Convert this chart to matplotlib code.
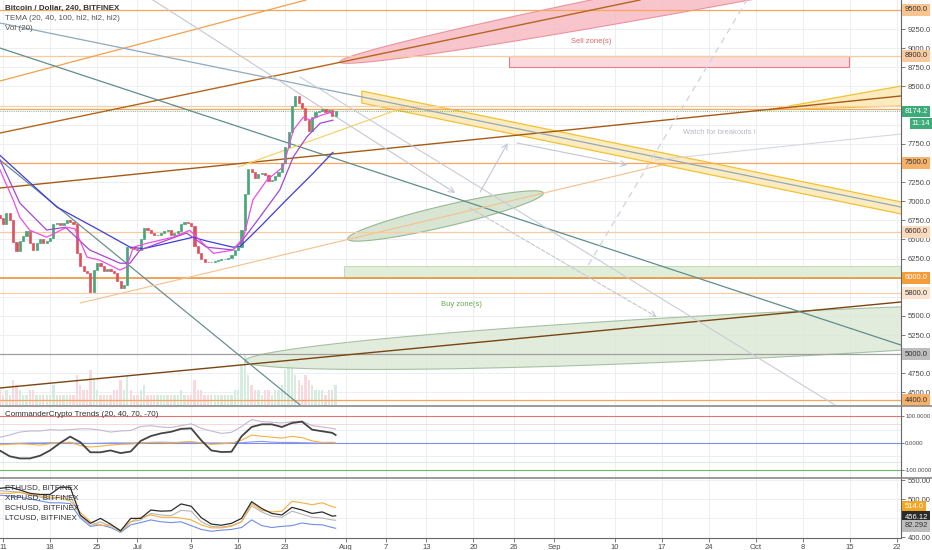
import matplotlib.pyplot as plt
import numpy as np
from matplotlib.patches import Polygon, Rectangle
from matplotlib.ticker import FormatStrFormatter
from matplotlib.lines import Line2D

plt.rcParams["font.family"] = ["Liberation Sans", "DejaVu Sans"]

W, H = 932, 550

# ---------------- data ----------------
# 12h candles, day 0 = 11 Jun 2018
candle_first_day = -0.5
candle_step = 0.5
first_open = 6820
closes = [6780, 6700, 6840, 6760, 6470, 6350, 6480, 6550, 6610, 6450,
          6360, 6450, 6500, 6460, 6480, 6520, 6700, 6720, 6690, 6710,
          6750, 6730, 6700, 6320, 6150, 6090, 6060, 5820, 6100, 6190,
          6150, 6090, 6110, 6090, 6060, 5960, 5860, 5900, 6400, 6390,
          6370, 6360, 6500, 6650, 6620, 6590, 6560, 6560, 6590, 6610,
          6620, 6560, 6580, 6610, 6700, 6730, 6720, 6680, 6420, 6330,
          6250, 6210, 6200, 6210, 6220, 6230, 6240, 6250, 6260, 6300,
          6360, 6400, 6620, 7100, 7420, 7380, 7300, 7360, 7370, 7340,
          7260, 7280, 7330, 7380, 7500, 7710, 7900, 8250, 8380, 8280,
          8220, 8060, 7920, 8100, 8170, 8180, 8200, 8170, 8190, 8120,
          8174.2]
volumes = [3, 2, 3, 2, 5, 4, 3, 2, 2, 3,
           3, 2, 2, 2, 2, 2, 4, 2, 2, 2,
           2, 2, 2, 6, 4, 3, 3, 7, 5, 3,
           2, 2, 2, 2, 3, 3, 5, 3, 6, 3,
           2, 2, 3, 4, 2, 2, 2, 2, 2, 2,
           2, 2, 2, 2, 3, 2, 2, 2, 5, 3,
           3, 2, 2, 2, 2, 2, 2, 2, 2, 2,
           3, 3, 8, 10, 6, 4, 3, 3, 2, 3,
           3, 2, 3, 3, 4, 7, 9, 8, 6, 5,
           4, 6, 5, 4, 3, 3, 3, 2, 3, 3,
           4]

tema_fast_days = [-0.45, 1.5, 2.5, 4.0, 6.5, 9.5, 10.7, 12.5, 14.4, 17.4, 18.4, 19.4, 21.4, 25.3,
                  27.8, 29.3, 31.3, 34.2, 35.8, 37.2, 39.3, 41.7, 43.2, 44.7, 45.7, 47.2, 49.1]
tema_fast = [7410, 7020, 6790, 6620, 6530, 6660, 6640, 6270, 6230, 6100, 6140, 6400, 6450, 6530,
             6620, 6490, 6320, 6360, 6530, 7020, 7280, 7450, 7930, 8100, 8060, 8120, 8170]
tema_mid_days = [-0.45, 2.5, 6.5, 9.3, 12.9, 17.4, 18.9, 20.4, 27.3, 30.3, 34.2, 35.3, 38.2,
                 41.2, 43.2, 45.2, 47.2, 49.1]
tema_mid = [7540, 6977, 6624, 6660, 6363, 6190, 6190, 6363, 6585, 6400, 6363, 6450, 6790,
            7150, 7580, 7840, 8020, 8060]
tema_slow_days = [-0.45, 8.0, 14.4, 18.9, 20.9, 24.4, 28.3, 30.3, 34.2, 35.3, 38.2, 42.2, 46.2, 49.1]
tema_slow = [7600, 6925, 6620, 6400, 6380, 6450, 6530, 6480, 6400, 6410, 6660, 7020, 7370, 7640]

# horizontal levels
level_prices = [9500, 8900, 8240, 8200, 7500, 6600, 6000, 5800, 5000, 4400]
level_colors = ["#f6a55a", "#f9c9a0", "#f9cfa9", "#f6a55a", "#f6a55a",
                "#f9c9a0", "#f08c2c", "#f9cfa9", "#9e9e9e", "#f6a55a"]
last_price = 8174.2

# trend lines through two (day, price) points, drawn across the chart
orange_top = [(-0.45, 8572), (45.1, 9631)]
brown_top = [(-0.45, 7892), (94.8, 9631)]
brown_mid = [(-0.45, 7173), (133.6, 8376)]
brown_low = [(-0.45, 4559), (133.6, 5683)]
slate_line = [(-0.45, 9330), (133.6, 6925)]
teal_line = [(-0.45, 9003), (133.6, 5121)]
teal_steep = [(-0.45, 7539), (44.2, 4337)]

# segments (day, price)
light_orange_seg = [(11.5, 5670), (99.3, 7500)]
yellow_seg = [(35.0, 7448), (59.8, 8232)]
grey_long_seg = [(44.2, 8624), (123.8, 4337)]
faint_right_seg = [(97.0, 7539), (148.4, 8016)]
arrow_down = [(22.3, 9631), (67.3, 7108)]
arrow_up = [(71.0, 7121), (75.1, 7761)]
arrow_right = [(76.5, 7761), (92.9, 7474)]
dashed_arrow = [(69.5, 6912), (97.3, 5487)]
dashed_up = [(87.1, 6167), (110.7, 9631)]

# channels
yellow_channel = [(53.4, 8441), (148.4, 6724), (148.4, 6567), (53.4, 8284)]
yellow_wedge = [(113.7, 8193), (148.4, 8738), (148.4, 8284)]

# ellipses: major axis tips (day, price)
red_ellipse = [(50.1, 8820), (196.3, 11265)]
green_ellipse_small = [(51.3, 6507), (80.4, 7108)]
green_ellipse_big = [(36.0, 4912), (189.3, 5579)]

# zones: (day0, day1, price0, price1)
sell_zone = (75.3, 125.9, 8755, 8900)
buy_zone = (50.7, 140.0, 6000, 6160)

# indicator panels
ind_days = [-0.5, 1, 2.5, 4, 5.5, 7, 8.5, 10, 11.5, 13, 14.5, 16, 17.5, 19, 20.5, 22, 23.5,
            25, 26.5, 28, 29.5, 31, 32.5, 34, 35.5, 37, 38.5, 40, 41.5, 43, 44.5, 46, 47.5,
            49, 49.5]
trend_main = [-28, -50, -58, -58, -48, -28, 0, 24, 3, -35, -35, -28, -38, -32, 8, 26, 36,
              42, 53, 55, 10, -28, -34, -33, 25, 60, 70, 70, 60, 75, 80, 50, 44, 38, 30]
trend_upper = [21, 30, 41, 45, 45, 50, 48, 50, 53, 53, 48, 41, 45, 47, 62, 65, 60,
               58, 65, 72, 55, 45, 36, 40, 62, 88, 80, 78, 75, 80, 82, 65, 60, 55, 52]
trend_orange = [-7, -5, -3, -5, -8, -3, 0, 3, -10, -15, -12, -8, -5, -4, 0, 2, 2,
                0, 3, 5, 0, -5, -3, 0, 10, 30, 25, 22, 18, 25, 20, 8, 2, 3, 0]
trend_blue = [-3, -2, -1, 0, 0, 1, 0, 0, -1, -2, -1, 0, 0, 0, 1, 2, 3,
              2, 2, 3, 1, 0, 0, 0, 1, 4, 6, 3, 2, 2, 1, 0, -1, 0, 0]

eth = [528, 531, 524, 515, 512, 512, 531, 531, 458, 436, 449, 434, 416, 449, 449, 471, 468,
       469, 487, 481, 451, 434, 431, 436, 449, 493, 475, 462, 458, 478, 471, 462, 466, 455, 456]
xrp = [515, 515, 518, 512, 508, 505, 503, 495, 465, 440, 430, 432, 418, 440, 452, 458, 452,
       452, 450, 445, 432, 424, 424, 428, 440, 488, 470, 466, 468, 494, 490, 485, 490, 480, 478]
bch = [522, 520, 518, 510, 505, 500, 505, 508, 455, 430, 440, 428, 412, 440, 445, 462, 458,
       456, 470, 468, 440, 428, 426, 430, 440, 482, 466, 455, 452, 468, 460, 452, 450, 445, 444]
ltc = [510, 508, 505, 500, 495, 490, 490, 488, 450, 428, 432, 425, 412, 432, 438, 445, 440,
       438, 440, 430, 420, 415, 418, 420, 425, 445, 430, 425, 428, 430, 437, 433, 432, 425, 423]
compare_names = ["ETHUSD, BITFINEX", "XRPUSD, BITFINEX", "BCHUSD, BITFINEX", "LTCUSD, BITFINEX"]

tick_days = [0, 7, 14, 20, 28, 35, 42, 51, 57, 63, 70, 76, 82, 91, 98, 105, 112, 119, 126, 133]
tick_labels = ["11", "18", "25", "Jul", "9", "16", "23", "Aug", "7", "13", "20", "26", "Sep",
               "10", "17", "24", "Oct", "8", "15", "22"]
price_ticks = [9250, 9000, 8750, 8500, 7750, 7250, 7000, 6750, 6500, 6250, 5500, 5250, 4750, 4500]

# ---------------- figure ----------------
fig = plt.figure(figsize=(W / 100, H / 100), dpi=100)


def px_rect(top, bottom):
    return [0, 1 - bottom / H, 901 / W, (bottom - top) / H]


# volume sits on its own axes underneath the price axes
axv = fig.add_axes(px_rect(0, 405))
ax = fig.add_axes(px_rect(0, 405))
ax_t = fig.add_axes(px_rect(406, 477))
ax_c = fig.add_axes(px_rect(478, 538))

xlim = (-0.446, 133.63)
ax.set_xlim(*xlim)
ax.set_ylim(4336.6, 9630.7)
ax_t.set_xlim(*xlim)
ax_t.set_ylim(-127.8, 138.9)
ax_c.set_xlim(*xlim)
ax_c.set_ylim(397.4, 555.3)

grid_c = "#ebeff3"
for a in (ax, ax_t, ax_c):
    for s in ("top", "left", "bottom"):
        a.spines[s].set_visible(False)
    a.spines["right"].set_color("#666666")
    a.spines["right"].set_linewidth(0.8)
    a.yaxis.tick_right()
    a.tick_params(axis="y", direction="out", length=3, width=0.6, color="#666666",
                  labelsize=5.5, labelcolor="#4a4a4a", pad=2)
    a.set_xticks(tick_days)
ax.tick_params(axis="x", length=0, labelbottom=False)
ax_t.tick_params(axis="x", length=0, labelbottom=False)
ax_c.spines["bottom"].set_visible(True)
ax_c.spines["bottom"].set_color("#666666")
ax_c.set_xticklabels(tick_labels)
ax_c.tick_params(axis="x", direction="out", length=3, width=0.6, color="#666666",
                 labelsize=5.5, labelcolor="#4a4a4a", pad=1.5)
for a in (axv, ax_t, ax_c):
    for d in tick_days:
        a.axvline(d, color=grid_c, lw=0.7, zorder=0)

ax.set_yticks(price_ticks)
ax.yaxis.set_major_formatter(FormatStrFormatter("%.1f"))

# volume (behind everything)
n = len(closes)
days = candle_first_day + candle_step * np.arange(n)
opens = np.concatenate([[first_open], closes[:-1]])
closes_a = np.array(closes)
up = closes_a >= opens
axv.set_xlim(*xlim)
axv.set_ylim(0, 81)
for v in np.arange(4500, 9501, 250):
    axv.axhline((v - 4336.6) / (9630.7 - 4336.6) * 81, color=grid_c, lw=0.7, zorder=0)
axv.bar(days, volumes, width=0.35, color=np.where(up, "#d5ecdf", "#f9d9dd"), zorder=1)
axv.axis("off")
ax.patch.set_visible(False)

# zones and shapes
def ellipse_pts(a, tips, half_minor_px, num=160):
    p1 = a.transData.transform(tips[0])
    p2 = a.transData.transform(tips[1])
    c = (p1 + p2) / 2
    v = (p2 - p1) / 2
    semi = np.hypot(*v)
    u = v / semi
    nrm = np.array([-u[1], u[0]])
    t = np.linspace(0, 2 * np.pi, num)
    pts = c + np.outer(np.cos(t) * semi, u) + np.outer(np.sin(t) * half_minor_px, nrm)
    return a.transData.inverted().transform(pts)


ax.add_patch(Polygon(ellipse_pts(ax, red_ellipse, 16), closed=True, fc="#f7b7c0", ec="#e8808c",
                     lw=0.8, alpha=0.8, zorder=1))
ax.add_patch(Polygon(ellipse_pts(ax, green_ellipse_big, 22.5), closed=True, fc="#dde9d6",
                     ec="#9ab896", lw=0.8, alpha=0.85, zorder=1))
ax.add_patch(Polygon(ellipse_pts(ax, green_ellipse_small, 10.5), closed=True, fc="#d5e3cf",
                     ec="#8fb08a", lw=0.8, alpha=0.9, zorder=1))
ax.add_patch(Rectangle((sell_zone[0], sell_zone[2]), sell_zone[1] - sell_zone[0],
                       sell_zone[3] - sell_zone[2], fc="#fadadd", ec="#e37d88", lw=0.8, zorder=1))
ax.add_patch(Rectangle((buy_zone[0], buy_zone[2]), buy_zone[1] - buy_zone[0],
                       buy_zone[3] - buy_zone[2], fc="#e0eed9", ec="#bcd6b0", lw=0.6, zorder=1))
ax.add_patch(Polygon(yellow_channel, closed=True, fc="#fcebbf", ec="#f1c232", lw=0.9, zorder=1))
ax.add_patch(Polygon(yellow_wedge, closed=True, fc="#fcebbf", ec="#f1c232", lw=0.9, zorder=1))

for p, c in zip(level_prices, level_colors):
    ax.axhline(p, color=c, lw=1.1 if p == 6000 else 0.9, zorder=2)
ax.axhline(last_price, color="#3daa7a", lw=0.6, ls=":", zorder=2)

ax.axline(*orange_top, color="#f5a04a", lw=0.9, zorder=2)
ax.axline(*brown_top, color="#b5651d", lw=1.0, zorder=2)
ax.axline(*brown_mid, color="#a85a14", lw=1.0, zorder=2)
ax.axline(*brown_low, color="#7a4510", lw=1.0, zorder=2)
ax.axline(*slate_line, color="#8fa9bd", lw=0.9, zorder=2)
ax.axline(*teal_line, color="#5e8e8c", lw=0.9, zorder=2)
ax.plot(*zip(*teal_steep), color="#6c8f8f", lw=0.9, zorder=2)

ax.plot(*zip(*light_orange_seg), color="#f7c08a", lw=0.8, zorder=2)
ax.plot(*zip(*yellow_seg), color="#f5d36b", lw=0.9, zorder=2)
ax.plot(*zip(*grey_long_seg), color="#c9ccd6", lw=0.8, zorder=2)
ax.plot(*zip(*faint_right_seg), color="#d6d8e0", lw=0.8, zorder=2)
for seg, ls in ((arrow_down, "-"), (arrow_up, "-"), (arrow_right, "-"), (dashed_arrow, "--")):
    ax.annotate("", xy=seg[1], xytext=seg[0],
                arrowprops=dict(arrowstyle="->", color="#c3c7d3", lw=0.8, linestyle=ls,
                                shrinkA=0, shrinkB=0), zorder=2)
ax.plot(*zip(*dashed_up), color="#cfd2da", lw=0.9, ls=(0, (5, 4)), zorder=2)

# candles
bottoms = np.minimum(opens, closes_a)
heights = np.abs(closes_a - opens)
ccol = np.where(up, "#4aa57a", "#e0505e")
ax.bar(days, heights, bottom=bottoms, width=0.32, color=ccol, edgecolor=ccol, lw=0.5, zorder=4)

ax.plot(tema_slow_days, tema_slow, color="#3d3dd6", lw=0.9, zorder=5)
ax.plot(tema_mid_days, tema_mid, color="#a247d6", lw=0.9, zorder=5)
ax.plot(tema_fast_days, tema_fast, color="#ea4fe4", lw=0.9, zorder=5)

# zone texts
ax.text(84.5, 9086, "Sell zone(s)", fontsize=5.5, color="#e06666", va="center")
ax.text(65.2, 5644, "Buy zone(s)", fontsize=5.5, color="#6aa84f", va="center")
ax.text(101.2, 7896, "Watch for breakouts !", fontsize=5.5, color="#b7b9c8", va="center")


def axis_box(a, y, text, fc, tc, dx=0.004, size=5.5):
    a.text(1 + dx, y, text, transform=a.get_yaxis_transform(), ha="left", va="center",
           fontsize=size, color=tc, zorder=10, clip_on=False,
           bbox=dict(boxstyle="square,pad=0.3", fc=fc, ec="none"))


box_prices = [9500, 8900, 7500, 6600, 6000, 5800, 5000, 4400]
box_fc = ["#f8c590", "#f9c9a0", "#f6b26b", "#fbd9bd", "#f39c38", "#fce3cf", "#bdbdbd", "#f6b26b"]
box_tc = ["#333333", "#333333", "#333333", "#333333", "#ffffff", "#333333", "#333333", "#333333"]
for p, fc, tc in zip(box_prices, box_fc, box_tc):
    axis_box(ax, p, f"{p:.1f}", fc, tc)
axis_box(ax, last_price, f"{last_price:.1f}", "#3daa7a", "#ffffff")
axis_box(ax, last_price - 160, "11:14", "#3daa7a", "#ffffff", dx=0.012)

# trends panel
ax_t.set_yticks([100, 0, -100])
ax_t.yaxis.set_major_formatter(FormatStrFormatter("%.4f"))
ax_t.tick_params(axis="y", labelsize=4.3, pad=1, length=2)
for v in (50, -50):
    ax_t.axhline(v, color=grid_c, lw=0.7, zorder=0)
ax_t.axhline(100, color="#e57373", lw=0.8)
ax_t.axhline(70, color="#f4dada", lw=0.7)
ax_t.axhline(-70, color="#dcebdc", lw=0.7)
ax_t.axhline(-100, color="#66bb6a", lw=0.8)
ax_t.axhline(0, color="#7f8fe6", lw=0.8)
ax_t.plot(ind_days, trend_blue, color="#8a98f0", lw=0.8)
ax_t.plot(ind_days, trend_orange, color="#f5b041", lw=0.8)
ax_t.plot(ind_days, trend_upper, color="#c3b7d2", lw=0.8)
ax_t.plot(ind_days, trend_main, color="#444444", lw=1.3)

# comparison panel
ax_c.set_yticks([550, 500, 400])
ax_c.yaxis.set_major_formatter(FormatStrFormatter("%.2f"))
for v in (450, 500, 550):
    ax_c.axhline(v, color=grid_c, lw=0.7, zorder=0)
ax_c.plot(ind_days, ltc, color="#6f8fe6", lw=0.8)
ax_c.plot(ind_days, bch, color="#b5b5b5", lw=0.8)
ax_c.plot(ind_days, xrp, color="#f5b041", lw=0.8)
ax_c.plot(ind_days, eth, color="#2b2b2b", lw=0.9)
axis_box(ax_c, 479, "514.0", "#f5a623", "#ffffff")
axis_box(ax_c, 452.6, "456.12", "#2b2b2b", "#ffffff")
axis_box(ax_c, 429, "82.292", "#bdbdbd", "#333333")
for i, name in enumerate(compare_names):
    fig.text(5 / W, 1 - (488 + 9.8 * i) / H, name, fontsize=5.8, color="#333333", va="center")

# headers
fig.text(5 / W, 1 - 8 / H, "Bitcoin / Dollar, 240, BITFINEX", fontsize=5.8, color="#333333",
         fontweight="bold", va="center")
fig.text(5 / W, 1 - 19 / H, "TEMA (20, 40, 100, hl2, hl2, hl2)", fontsize=5.8, color="#555555",
         va="center")
fig.text(5 / W, 1 - 29 / H, "Vol (20)", fontsize=5.8, color="#555555", va="center")
fig.text(5 / W, 1 - 414 / H, "CommanderCrypto Trends (20, 40, 70, -70)", fontsize=5.8,
         color="#333333", va="center")

# panel separators
for yp in (405.5, 477.5):
    fig.add_artist(Line2D([0, 1], [1 - yp / H, 1 - yp / H], color="#8a8a8a", lw=1.2,
                          transform=fig.transFigure))

fig.savefig("out.png", dpi=100)
